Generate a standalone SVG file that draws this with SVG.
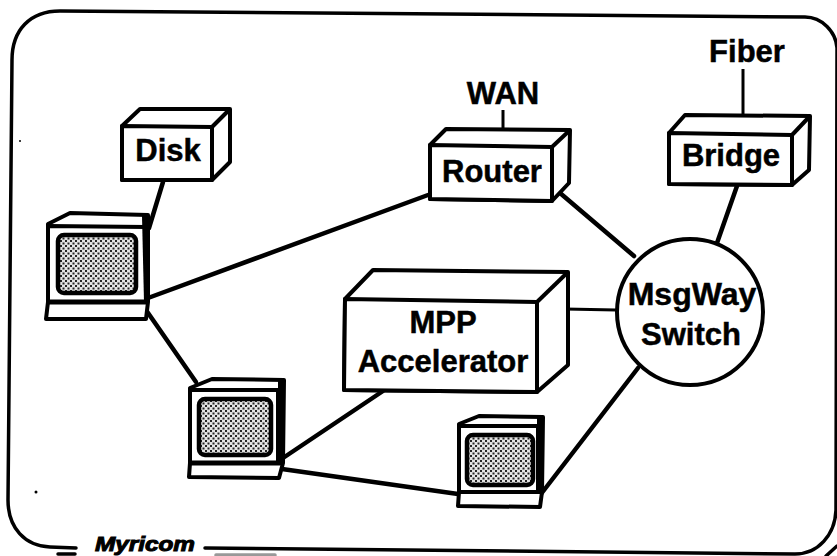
<svg xmlns="http://www.w3.org/2000/svg" width="837" height="556" viewBox="0 0 837 556">
<style>
text{font-family:"Liberation Sans",Arial,sans-serif;font-weight:700;font-size:31px;fill:#000;stroke:#000;stroke-width:.5;text-anchor:middle}
.box{fill:#fff;stroke:#000;stroke-width:4;stroke-linejoin:round}
.frame{fill:none;stroke:#000;stroke-width:3.5;stroke-linecap:round}
.c{fill:none;stroke:#000;stroke-width:4.5;stroke-linecap:round}
.c2{fill:none;stroke:#000;stroke-width:3}
.mon{fill:#fff;stroke:#000;stroke-width:4;stroke-linejoin:round}
.screen{fill:url(#dots);stroke:#000;stroke-width:4.5}
</style>
<defs>
<pattern id="dots" width="5" height="5" patternUnits="userSpaceOnUse">
<rect width="5" height="5" fill="#e2e2e2"/>
<rect width="2" height="2" fill="#222"/>
<rect x="2.5" y="2.5" width="2" height="2" fill="#222"/>
</pattern>
</defs>
<rect width="837" height="556" fill="#fff"/>
<g id="frame">
<path class="frame" d="M76 548 L50 547 C25 546 8 528 8 500 L12 60 C12 30 30 11 60 11 L805 17 C822 17 836 32 837 48 L836 510 C835 535 818 554 795 554 L205 548"/>
<path class="frame" d="M58 554 L75 554"/>
<path class="frame" style="stroke:#999" d="M216 555 L275 555"/>
<path class="frame" d="M826 556 L837 546"/>
<circle cx="36" cy="492" r="1.5"/>
<circle cx="20" cy="141" r="1"/>
</g>
<g id="connectors">
<line class="c" x1="163" y1="182" x2="149" y2="228"/>
<line class="c" x1="148" y1="298" x2="428" y2="195"/>
<line class="c" x1="146" y1="310" x2="196" y2="382"/>
<line class="c" x1="283" y1="458" x2="383" y2="391"/>
<line class="c" x1="282" y1="469" x2="458" y2="494"/>
<line class="c" x1="541" y1="494" x2="638" y2="368"/>
<line class="c" x1="560" y1="193" x2="634" y2="256"/>
<line class="c" x1="737" y1="186" x2="717" y2="243"/>
<line class="c2" x1="565" y1="309" x2="616" y2="310"/>
<line class="c2" x1="503" y1="110" x2="503" y2="130"/>
<line class="c2" x1="743" y1="69" x2="743" y2="115"/>
</g>
<g id="disk">
<path class="box" d="M122 126 L140 109 L230 109 L230 162 L212 180 L122 180 Z"/>
<path class="box" d="M122 126 L212 127 L212 180 L122 180 Z"/>
<path class="box" d="M212 127 L230 109"/>
<text x="168" y="161">Disk</text>
</g>
<g id="router">
<path class="box" d="M430 145 L446 129 L570 130 L569 183 L552 201 L430 199 Z"/>
<path class="box" d="M430 145 L552 147 L552 201 L430 199 Z"/>
<path class="box" d="M552 147 L570 130"/>
<text x="492" y="182">Router</text>
</g>
<g id="bridge">
<path class="box" d="M669 133 L685 115 L810 116 L809 170 L792 185 L669 184 Z"/>
<path class="box" d="M669 133 L792 135 L792 185 L669 184 Z"/>
<path class="box" d="M792 135 L810 116"/>
<text x="731" y="166">Bridge</text>
</g>
<g id="mpp">
<path class="box" d="M345 299 L373 270 L568 272 L568 365 L537 392 L344 390 Z"/>
<path class="box" d="M345 299 L537 302 L537 392 L344 390 Z"/>
<path class="box" d="M537 302 L568 272"/>
<text x="443" y="333">MPP</text>
<text x="443" y="372">Accelerator</text>
</g>
<g id="switch">
<circle cx="690" cy="312" r="73" fill="#fff" stroke="#000" stroke-width="4"/>
<text x="692" y="305" style="font-size:32px">MsgWay</text>
<text x="691" y="345">Switch</text>
</g>
<g id="wan"><text x="503" y="104">WAN</text></g>
<g id="fiber"><text x="747" y="62">Fiber</text></g>
<g id="monitor1">
<path class="mon" d="M48 224 L70 213 L148 215 L148 302 L146 319 L46 319 L48 302 Z"/>
<path class="mon" d="M48 226 L146 227 L146 302 L48 302 Z"/>
<path d="M142 216 L148 215 L148 302 L144 302 Z"/>
<rect class="screen" x="58" y="235" width="78" height="58" rx="6"/>
<line x1="48" y1="302" x2="148" y2="302" stroke="#000" stroke-width="5"/>
</g>
<g id="monitor2">
<path class="mon" d="M190 388 L212 379 L284 380 L283 463 L279 478 L189 477 L190 463 Z"/>
<path class="mon" d="M190 390 L278 390 L278 463 L190 463 Z"/>
<path d="M278 381 L284 380 L283 463 L278 463 Z"/>
<rect class="screen" x="199" y="399" width="72" height="56" rx="6"/>
<line x1="190" y1="463" x2="283" y2="463" stroke="#000" stroke-width="5"/>
</g>
<g id="monitor3">
<path class="mon" d="M459 424 L479 416 L543 417 L542 492 L540 507 L458 506 L459 492 Z"/>
<path class="mon" d="M459 426 L538 426 L538 492 L459 492 Z"/>
<path d="M537 418 L543 417 L542 492 L537 492 Z"/>
<rect class="screen" x="467" y="435" width="66" height="50" rx="6"/>
<line x1="459" y1="492" x2="542" y2="492" stroke="#000" stroke-width="4"/>
</g>
<g id="logo"><text x="145" y="551" textLength="100" lengthAdjust="spacingAndGlyphs" style="font-style:italic;font-size:20px;stroke-width:1">Myricom</text></g>
</svg>
